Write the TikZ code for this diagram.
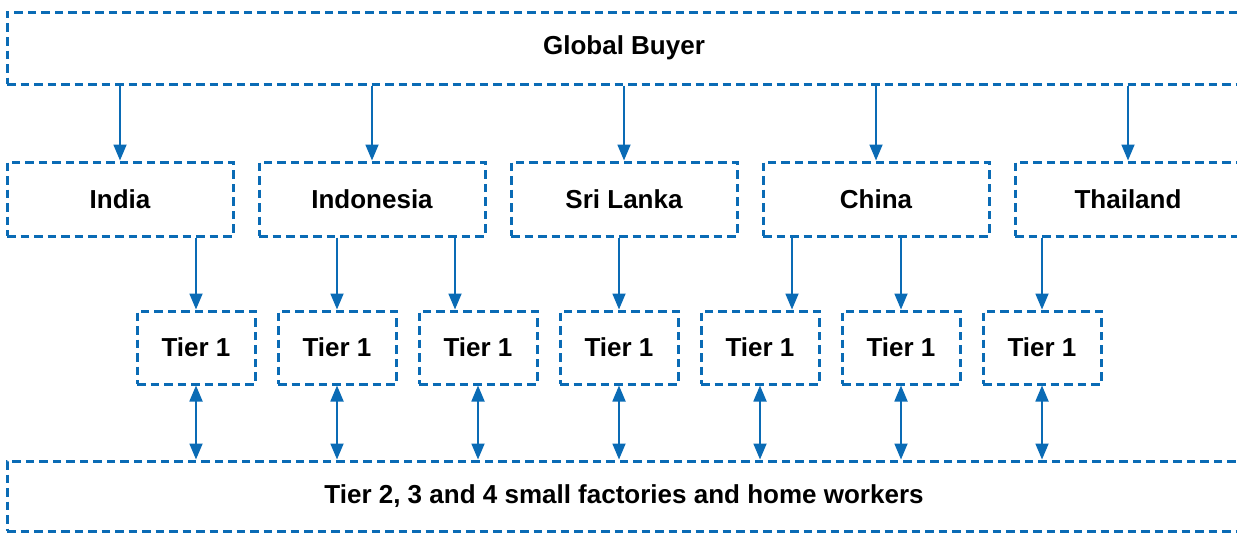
\documentclass[tikz,border=0pt]{standalone}
\usepackage{fontspec}
\setmainfont{Liberation Sans}
\usetikzlibrary{arrows.meta}
\definecolor{linkblue}{HTML}{0A6BB5}
\tikzset{
  box/.style={draw=linkblue, line width=3pt, dash pattern=on 8.5pt off 5pt,
    font=\fontsize{26}{30}\selectfont\bfseries, inner sep=0pt},
  country/.style={box, minimum width=226pt, minimum height=74pt},
  tierbox/.style={box, minimum width=118pt, minimum height=73pt},
  wide/.style={box, minimum width=1234pt, minimum height=72pt},
  link/.style={draw=linkblue, line width=1.8pt, -{Triangle[length=16pt,width=13pt]}},
  twoway/.style={draw=linkblue, line width=1.8pt, {Triangle[length=16pt,width=13pt]}-{Triangle[length=16pt,width=13pt]}}
}
\begin{document}
\begin{tikzpicture}[x=1pt, y=-1pt]
\useasboundingbox (0,0) rectangle (1237,533);
\clip (0,0) rectangle (1237,533);

% top and bottom bands
\node[wide] (buyer) at (624,48) {Global Buyer};
\node[wide, minimum height=70pt] (small) at (624,496) {Tier 2, 3 and 4 small factories and home workers};

% sourcing countries
\node[country] (india) at (120,199) {India};
\node[country] (indo)  at (372,199) {Indonesia};
\node[country] (sri)   at (624,199) {Sri Lanka};
\node[country] (china) at (876,199) {China};
\node[country] (thai)  at (1128,199) {Thailand};

% first-tier suppliers
\foreach \i/\x in {1/196, 2/337, 3/478, 4/619, 5/760, 6/901, 7/1042}
  \node[tierbox] (t\i) at (\x,347.5) {Tier 1};

% buyer to countries
\foreach \c in {india, indo, sri, china, thai}
  \draw[link] (buyer.south -| \c.north) -- (\c.north);

% countries to tier 1
\draw[link] (india.south -| t1.north) -- (t1.north);
\draw[link] (indo.south -| t2.north) -- (t2.north);
\draw[link] ([xshift=-23pt]t3.north |- indo.south) -- ([xshift=-23pt]t3.north);
\draw[link] (sri.south -| t4.north) -- (t4.north);
\draw[link] ([xshift=32pt]t5.north |- china.south) -- ([xshift=32pt]t5.north);
\draw[link] (china.south -| t6.north) -- (t6.north);
\draw[link] (thai.south -| t7.north) -- (t7.north);

% tier 1 to lower tiers
\foreach \i in {1,...,7}
  \draw[twoway] (t\i.south) -- (t\i.south |- small.north);
\end{tikzpicture}
\end{document}
